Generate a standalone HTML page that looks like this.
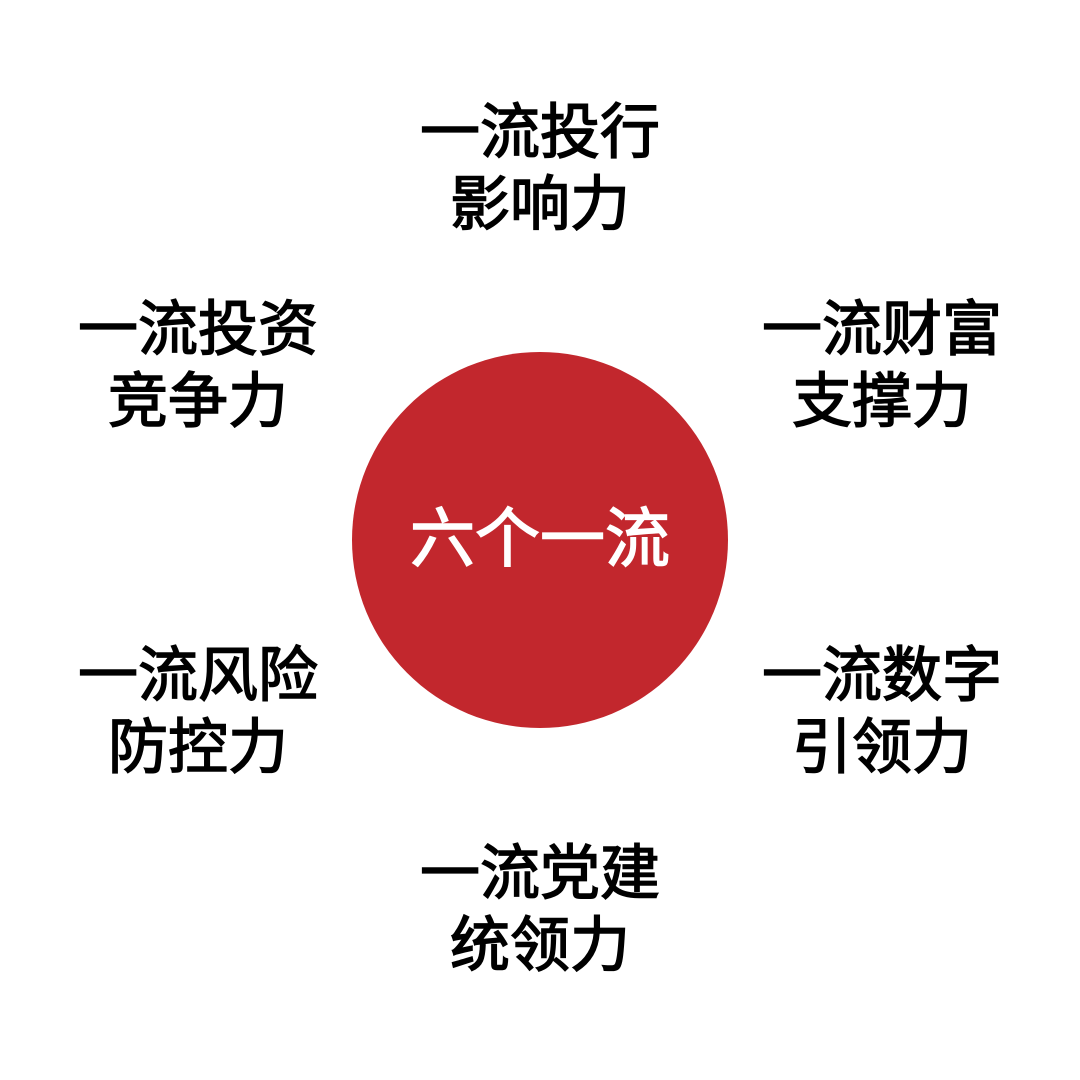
<!DOCTYPE html>
<html lang="zh">
<head>
<meta charset="utf-8">
<style>
html,body{margin:0;padding:0;background:#fff;}
#c{position:relative;width:1080px;height:1080px;overflow:hidden;background:#fff;font-family:"Liberation Sans","Noto Sans CJK SC",sans-serif;}
.circle{position:absolute;left:352px;top:352px;width:376px;height:376px;border-radius:50%;background:#c2272d;}
.t{position:absolute;width:400px;text-align:center;font-size:60px;line-height:72px;font-weight:400;color:#000;white-space:nowrap;-webkit-text-stroke:1.5px #000;}
.m{position:absolute;left:340px;top:503px;width:400px;text-align:center;font-size:65px;line-height:72px;font-weight:400;color:#fff;white-space:nowrap;-webkit-text-stroke:1.5px #fff;}
</style>
</head>
<body>
<div id="c">
<div class="circle"></div>
<div class="m">六个一流</div>
<div class="t" style="left:340px;top:97px;">一流投行<br>影响力</div>
<div class="t" style="left:-2px;top:294px;">一流投资<br>竞争力</div>
<div class="t" style="left:682px;top:294px;">一流财富<br>支撑力</div>
<div class="t" style="left:-2px;top:640px;">一流风险<br>防控力</div>
<div class="t" style="left:682px;top:640px;">一流数字<br>引领力</div>
<div class="t" style="left:340px;top:838px;">一流党建<br>统领力</div>
</div>
</body>
</html>
